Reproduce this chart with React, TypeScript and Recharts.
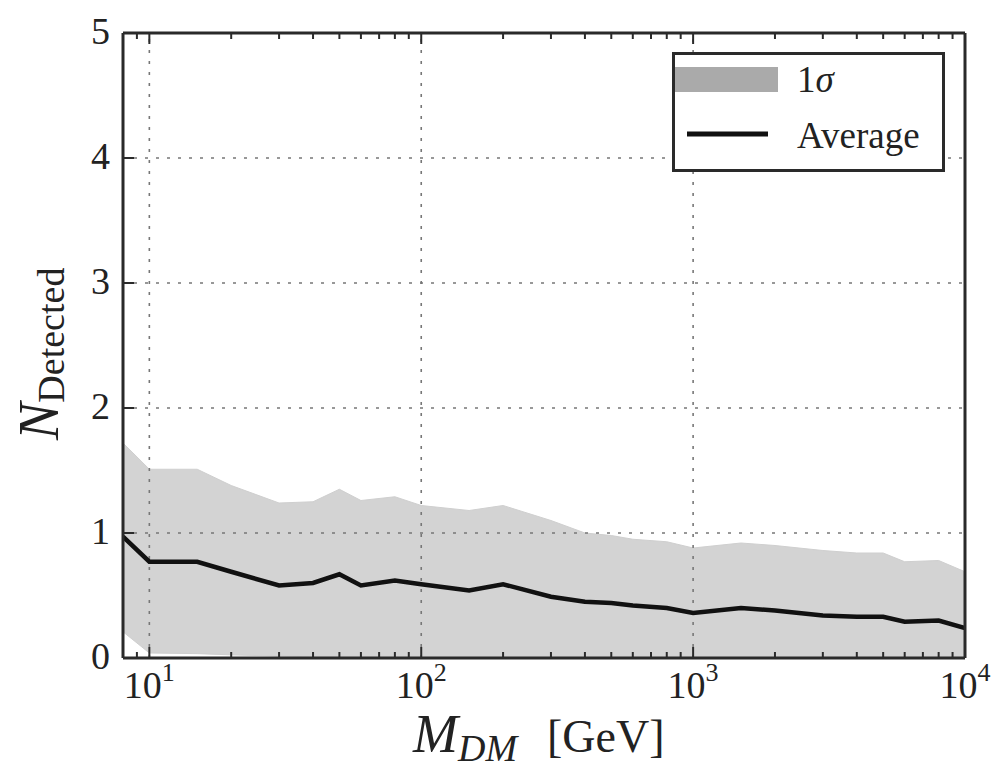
import {
  ComposedChart,
  Area,
  Line,
  XAxis,
  YAxis,
  ReferenceLine,
  Legend,
} from 'recharts';

// dark matter mass [GeV] and detected counts
const massGeV = [8, 10, 15, 20, 30, 40, 50, 60, 80, 100, 150, 200, 300, 400, 500, 600, 800, 1000, 1500, 2000, 3000, 4000, 5000, 6000, 8000, 10000];
const averageDetected = [0.97, 0.77, 0.77, 0.69, 0.58, 0.6, 0.67, 0.58, 0.62, 0.59, 0.54, 0.59, 0.49, 0.45, 0.44, 0.42, 0.4, 0.36, 0.4, 0.38, 0.34, 0.33, 0.33, 0.29, 0.3, 0.24];
const upper1Sigma = [1.72, 1.51, 1.51, 1.38, 1.24, 1.25, 1.35, 1.26, 1.29, 1.22, 1.18, 1.22, 1.1, 1.0, 0.98, 0.95, 0.93, 0.88, 0.92, 0.9, 0.86, 0.84, 0.84, 0.77, 0.78, 0.69];
const lower1Sigma = [0.21, 0.04, 0.035, 0.025, 0.015, 0.01, 0.005, 0, 0, 0, 0, 0, 0, 0, 0, 0, 0, 0, 0, 0, 0, 0, 0, 0, 0, 0];

const xMajorTicks = [10, 100, 1000, 10000];
const xMinorTicks = [8, 9, 20, 30, 40, 50, 60, 70, 80, 90, 200, 300, 400, 500, 600, 700, 800, 900, 2000, 3000, 4000, 5000, 6000, 7000, 8000, 9000];
const yTicks = [0, 1, 2, 3, 4, 5];
const yGrid = [1, 2, 3, 4];

const data = massGeV.map((m, i) => ({
  mass: m,
  band: [lower1Sigma[i], upper1Sigma[i]],
  average: averageDetected[i],
}));

const FONT = 'Liberation Serif, Times New Roman, DejaVu Serif, serif';
const INK = '#2a2a2a';
const allXTicks = [...xMajorTicks, ...xMinorTicks].sort((a, b) => a - b);

function BottomTick({ x, y, payload }: any) {
  const v = payload.value;
  const major = xMajorTicks.includes(v);
  return (
    <g>
      <line x1={x} y1={y} x2={x} y2={y - (major ? 11 : 6)} stroke={INK} strokeWidth={2} />
      {major && (
        <text x={x} y={y + 40} textAnchor="middle" style={{ fontFamily: FONT }} fontSize={38} fill="#222">
          10
          <tspan dy={-17} fontSize={26}>{Math.round(Math.log10(v))}</tspan>
        </text>
      )}
    </g>
  );
}

function TopTick({ x, y, payload }: any) {
  const major = xMajorTicks.includes(payload.value);
  return <line x1={x} y1={y} x2={x} y2={y + (major ? 11 : 6)} stroke={INK} strokeWidth={2} />;
}

function LeftTick({ x, y, payload }: any) {
  return (
    <g>
      <line x1={x} y1={y} x2={x + 11} y2={y} stroke={INK} strokeWidth={2} />
      <text x={x - 13} y={y + 11} textAnchor="end" style={{ fontFamily: FONT }} fontSize={38} fill="#222">
        {payload.value}
      </text>
    </g>
  );
}

function RightTick({ x, y }: any) {
  return <line x1={x} y1={y} x2={x - 11} y2={y} stroke={INK} strokeWidth={2} />;
}

function XLabel() {
  return (
    <text x={413} y={752} style={{ fontFamily: FONT }} fill="#222">
      <tspan fontStyle="italic" fontSize={54}>M</tspan>
      <tspan fontStyle="italic" fontSize={38} dy={9}>DM</tspan>
      <tspan x={547} dy={-9} fontSize={46}>[GeV]</tspan>
    </text>
  );
}

function YLabel() {
  return (
    <text x={58} y={440} transform="rotate(-90, 58, 440)" style={{ fontFamily: FONT }} fill="#222">
      <tspan fontStyle="italic" fontSize={56}>N</tspan>
      <tspan fontSize={38} dy={6}>Detected</tspan>
    </text>
  );
}

function LegendBox() {
  return (
    <svg width={273} height={120} style={{ display: 'block', fontFamily: FONT }}>
      <rect x={1.5} y={1.5} width={270} height={117} fill="#fff" stroke={INK} strokeWidth={3} />
      <rect x={3} y={15} width={103} height={25} fill="#aaaaaa" />
      <text x={125} y={40} fontSize={37} fill="#222">
        1<tspan fontStyle="italic">σ</tspan>
      </text>
      <line x1={15} y1={82} x2={96} y2={82} stroke="#111" strokeWidth={5} />
      <text x={125} y={96} fontSize={37} fill="#222">Average</text>
    </svg>
  );
}

export default function App() {
  return (
    <div style={{ position: 'absolute', left: 0, top: 0, width: 991, height: 770, background: '#fff' }}>
      <ComposedChart
        width={991}
        height={770}
        data={data}
        margin={{ top: 23, right: 16, bottom: 62, left: 83 }}
      >
        <Area
          dataKey="band"
          type="linear"
          fill="#d3d3d3"
          fillOpacity={1}
          stroke="#cfcfcf"
          strokeWidth={1}
          isAnimationActive={false}
          legendType="none"
        />
        {xMajorTicks.slice(0, 3).map((v) => (
          <ReferenceLine key={`gx${v}`} x={v} stroke="#777" strokeWidth={1.6} strokeDasharray="3 8" />
        ))}
        {yGrid.map((v) => (
          <ReferenceLine key={`gy${v}`} y={v} stroke="#777" strokeWidth={1.6} strokeDasharray="3 8" />
        ))}
        <Line
          dataKey="average"
          type="linear"
          stroke="#111"
          strokeWidth={4.5}
          dot={false}
          isAnimationActive={false}
          legendType="none"
        />
        <XAxis
          dataKey="mass"
          type="number"
          scale="log"
          domain={[8, 10000]}
          allowDataOverflow
          ticks={allXTicks}
          interval={0}
          height={50}
          tickSize={0}
          tickMargin={0}
          tickLine={false}
          tick={<BottomTick />}
          axisLine={{ stroke: INK, strokeWidth: 3 }}
          label={<XLabel />}
        />
        <XAxis
          xAxisId="top"
          orientation="top"
          dataKey="mass"
          type="number"
          scale="log"
          domain={[8, 10000]}
          allowDataOverflow
          ticks={allXTicks}
          interval={0}
          height={10}
          tickSize={0}
          tickMargin={0}
          tickLine={false}
          tick={<TopTick />}
          axisLine={{ stroke: INK, strokeWidth: 3 }}
        />
        <YAxis
          type="number"
          domain={[0, 5]}
          ticks={yTicks}
          interval={0}
          width={40}
          tickSize={0}
          tickMargin={0}
          tickLine={false}
          tick={<LeftTick />}
          axisLine={{ stroke: INK, strokeWidth: 3 }}
          label={<YLabel />}
        />
        <YAxis
          yAxisId="right"
          orientation="right"
          type="number"
          domain={[0, 5]}
          ticks={yTicks}
          interval={0}
          width={10}
          tickSize={0}
          tickMargin={0}
          tickLine={false}
          tick={<RightTick />}
          axisLine={{ stroke: INK, strokeWidth: 3 }}
        />
        <Legend
          layout="vertical"
          verticalAlign="middle"
          align="center"
          content={() => <LegendBox />}
          wrapperStyle={{ position: 'absolute', left: 672, top: 52, width: 273, height: 120 }}
        />
      </ComposedChart>
    </div>
  );
}
